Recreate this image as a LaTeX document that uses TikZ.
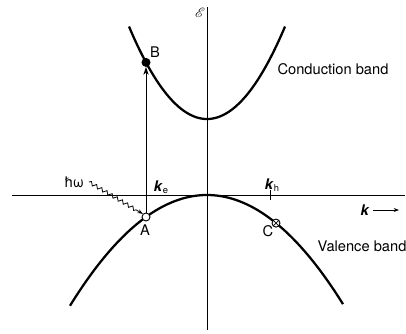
\documentclass[tikz,border=0pt]{standalone}
\usepackage{fontspec}
\setmainfont{TeX Gyre Heros}
\usepackage{mathrsfs}
\usetikzlibrary{arrows.meta,decorations.pathmorphing}
\tikzset{
  axis/.style={line width=0.75pt},
  band/.style={line width=1.7pt},
  lbl/.style={font=\fontsize{11}{13}\selectfont, inner sep=1pt},
  ptfill/.style={circle, draw, line width=0.7pt, fill=black, minimum size=6pt, inner sep=0pt},
  ptopen/.style={circle, draw, line width=0.7pt, fill=white, minimum size=6pt, inner sep=0pt},
  pthole/.style={circle, draw, line width=0.7pt, fill=white, minimum size=6pt, inner sep=0pt, path picture={\draw[line width=0.5pt] (path picture bounding box.south west) -- (path picture bounding box.north east) (path picture bounding box.north west) -- (path picture bounding box.south east);}},
}
\begin{document}
\begin{tikzpicture}[x=0.75pt,y=-0.75pt]
\useasboundingbox (0,0) rectangle (406,333);
% axes
\coordinate (vtop) at (207,7);
\coordinate (vbot) at (207,330);
\coordinate (hl) at (12,195);
\coordinate (hr) at (405,195);
\draw[axis] (vtop) -- (vbot);
\draw[axis] (hl) -- (hr);
% bands
\draw[band] plot[domain=-78:78, samples=80, smooth] ({207+\x},{119-1.52*(\x/10)*(\x/10)});
\draw[band] plot[domain=-137:136, samples=100, smooth] ({207+\x},{195+0.59*(\x/10)*(\x/10)});
% points
\node[ptopen] (A) at (146,217) {};
\node[ptfill] (B) at (146,62.4) {};
\node[pthole] (C) at (276,223.1) {};
\draw[line width=0.7pt, -{Stealth[length=6pt,width=4pt]}] (A) -- (B);
% tick k_h
\coordinate (th1) at (270,190);
\coordinate (th2) at (270,200);
\draw[axis] (th1) -- (th2);
% labels
\node[lbl] (Alab) at (145,230) {A};
\node[lbl] (Blab) at (155,52) {B};
\node[lbl] (Clab) at (268,231) {C};
\node[lbl] (ke) at (161,187) {\textbf{\textit{k}}\raisebox{-0.3ex}{\fontsize{7}{8}\selectfont e}};
\node[lbl] (kh) at (272,185) {\textbf{\textit{k}}\raisebox{-0.3ex}{\fontsize{7}{8}\selectfont h}};
\node[lbl] (E) at (200,13) {\fontsize{10}{11}\selectfont$\mathscr{E}$};
\node[lbl] (hw) at (74,182) {ħω};
\node[lbl] (cb) at (333,69) {Conduction band};
\node[lbl] (vb) at (362,246) {Valence band};
\node[lbl] (k) at (365,210) {\textbf{\textit{k}}};
\coordinate (ka1) at (373,210);
\coordinate (ka2) at (399,210);
\draw[line width=0.6pt, -{Stealth[length=4pt,width=3pt]}] (ka1) -- (ka2);
% photon
\coordinate (ph0) at (89,182);
\draw[line width=0.6pt, decorate, decoration={snake, amplitude=1.3pt, segment length=4.5pt, post length=5pt}, -{Stealth[length=4pt,width=3pt]}] (ph0) -- (A.north west);
\end{tikzpicture}
\end{document}
